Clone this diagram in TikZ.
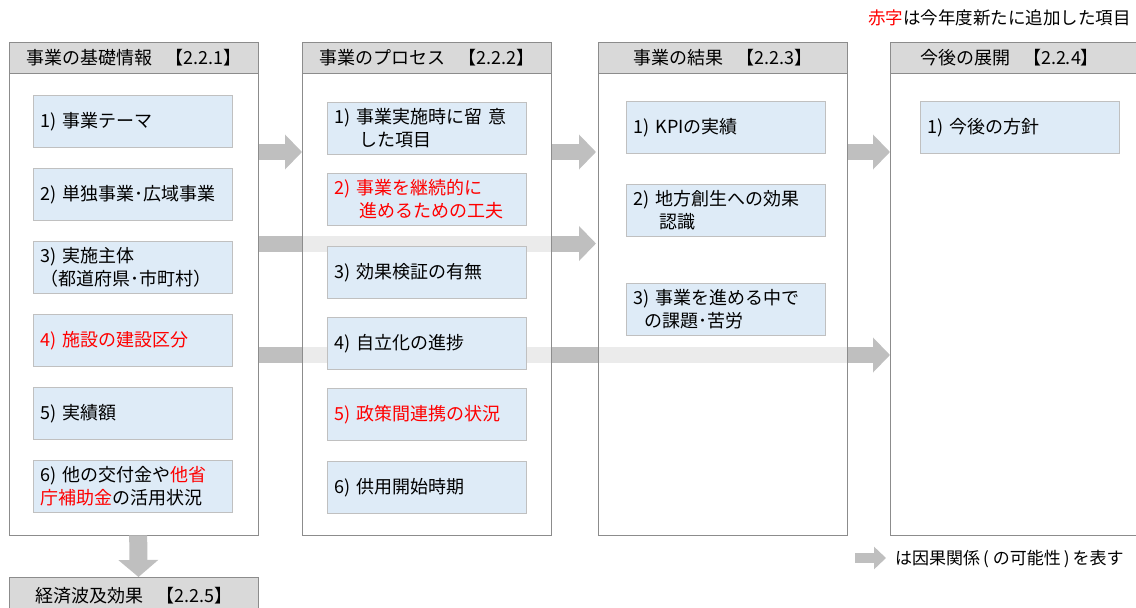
\documentclass[tikz,border=0pt]{standalone}
\usepackage{fontspec}
\setmainfont{Noto Sans CJK JP}
\usetikzlibrary{arrows.meta}
\definecolor{hdrfill}{HTML}{D9D9D9}
\definecolor{colline}{HTML}{8C8C8C}
\definecolor{boxfill}{HTML}{DEEBF7}
\definecolor{boxline}{HTML}{C0C0C0}
\definecolor{arrowgray}{HTML}{BFBFBF}
\definecolor{redtxt}{HTML}{FF0000}
\tikzset{
  colhead/.style={draw=colline, fill=hdrfill, line width=1pt, anchor=north west,
    minimum width=249pt, minimum height=31pt, inner sep=0pt, font=\fontsize{18}{22}\selectfont},
  colbody/.style={fill=white, anchor=north west, minimum width=249pt,
    minimum height=462pt, inner sep=0pt},
  colframe/.style={draw=colline, line width=1pt},
  itembox/.style={draw=boxline, fill=boxfill, line width=1pt, anchor=north west,
    text width=185pt, inner xsep=7pt, inner ysep=0pt, minimum height=52pt,
    align=left, font=\fontsize{18}{23}\selectfont},
  bigarrow/.style={draw=arrowgray, line width=16pt, -{Triangle[width=34pt,length=17pt]}},
  smallarrow/.style={draw=arrowgray, line width=10pt, -{Triangle[width=22pt,length=12pt]}},
  bandfade/.style={fill=white, opacity=0.7},
  plaintext/.style={inner sep=0pt, font=\fontsize{17.5}{22}\selectfont}
}
\begin{document}
\begin{tikzpicture}[x=1pt,y=-1pt]
\useasboundingbox (0,0) rectangle (1136,608);
\clip (0,0) rectangle (1136,608);

% column bodies
\node[colbody] (c1b) at (9,73) {};
\node[colbody] (c2b) at (302,73) {};
\node[colbody] (c3b) at (598,73) {};
\node[colbody, minimum width=260pt] (c4b) at (890,73) {};

% arrows
\coordinate (r1) at (0,152);
\coordinate (r2) at (0,243.5);
\coordinate (r3) at (0,355);
\draw[bigarrow] (c1b.east |- r1) -- (c2b.west |- r1);
\draw[bigarrow] (c2b.east |- r1) -- ([xshift=-2pt]c3b.west |- r1);
\draw[bigarrow] (c3b.east |- r1) -- (c4b.west |- r1);
\draw[bigarrow] (c1b.east |- r2) -- ([xshift=-2pt]c3b.west |- r2);
\draw[bigarrow] (c1b.east |- r3) -- (c4b.west |- r3);

% fade of arrows inside columns
\fill[bandfade] (c2b.north west) rectangle (c2b.south east);
\fill[bandfade] (c3b.north west) rectangle (c3b.south east);

% column frames
\draw[colframe] (c1b.north west) rectangle (c1b.south east);
\draw[colframe] (c2b.north west) rectangle (c2b.south east);
\draw[colframe] (c3b.north west) rectangle (c3b.south east);
\draw[colframe] (c4b.north west) rectangle (c4b.south east);

% headers
\node[colhead] (c1h) at (9,42) {事業の基礎情報\hspace{13pt}【2.2.1】};
\node[colhead] (c2h) at (302,42) {事業のプロセス\hspace{13pt}【2.2.2】};
\node[colhead] (c3h) at (598,42) {事業の結果\hspace{13pt}【2.2.3】};
\node[colhead, minimum width=260pt] (c4h) at (890,42) {\hspace*{-22pt}今後の展開\hspace{13pt}【2.2.4】};

% column 1 items
\node[itembox] (a1) at (33,95) {1) 事業テーマ};
\node[itembox] (a2) at (33,168) {2) 単独事業･広域事業};
\node[itembox] (a3) at (33,241) {3) 実施主体\\（都道府県･市町村）};
\node[itembox, text=redtxt] (a4) at (33,314) {4) 施設の建設区分};
\node[itembox] (a5) at (33,387) {5) 実績額};
\node[itembox] (a6) at (33,460) {6) 他の交付金や{\color{redtxt}他省}\\{\color{redtxt}庁補助金}の活用状況};

% column 2 items
\node[itembox] (b1) at (327,102) {1) 事業実施時に留 意\\\hspace*{25pt}した項目};
\node[itembox, text=redtxt] (b2) at (327,173) {2) 事業を継続的に\\\hspace*{25pt}進めるための工夫};
\node[itembox] (b3) at (327,246) {3) 効果検証の有無};
\node[itembox] (b4) at (327,317) {4) 自立化の進捗};
\node[itembox, text=redtxt] (b5) at (327,388) {5) 政策間連携の状況};
\node[itembox] (b6) at (327,461) {6) 供用開始時期};

% column 3 items
\node[itembox] (d1) at (626,101) {1) KPIの実績};
\node[itembox] (d2) at (626,184) {2) 地方創生への効果\\\hspace*{26pt}認識};
\node[itembox] (d3) at (626,283) {3) 事業を進める中で\\\hspace*{11pt}の課題･苦労};

% column 4 items
\node[itembox] (e1) at (920,101) {1) 今後の方針};

% economic effect box and arrow
\node[colhead, minimum height=36pt] (c5h) at (9,577) {経済波及効果\hspace{13pt}【2.2.5】};
\draw[bigarrow, line width=18pt, -{Triangle[width=39pt,length=17pt]}]
  ([xshift=4.5pt]c1b.south) -- ([xshift=4.5pt]c5h.north);

% note
\node[plaintext, anchor=east] (note) at (1131,18) {{\color{redtxt}赤字}は今年度新たに追加した項目};

% legend
\coordinate (lg0) at (855,558);
\coordinate (lg1) at (886,558);
\draw[smallarrow] (lg0) -- (lg1);
\node[plaintext, anchor=west, font=\fontsize{17}{22}\selectfont] (legend) at (895,559)
  {は因果関係\hspace{3pt}(\hspace{4pt}の可能性\hspace{3pt})\hspace{3pt}を表す};
\end{tikzpicture}
\end{document}
